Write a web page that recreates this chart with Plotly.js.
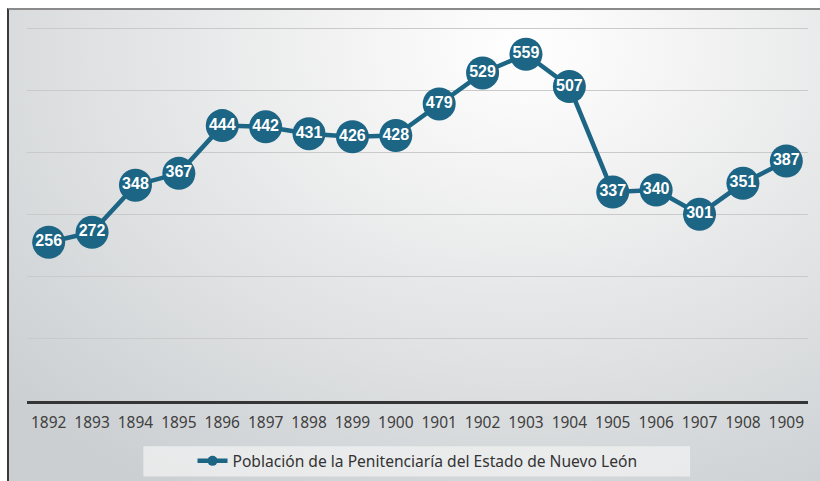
<!DOCTYPE html>
<html>
<head>
<meta charset="utf-8">
<script src="https://cdn.plot.ly/plotly-3.0.1.min.js"></script>
<style>
  html, body { margin:0; padding:0; background:#ffffff; }
  #wrap { position:relative; width:820px; height:481px; overflow:hidden; background:#ffffff; }
  #bg { position:absolute; left:7px; top:8px; width:830px; height:490px;
        border-top:2px solid #8a8a8a; border-left:2px solid #3a3a3a; box-sizing:border-box;
        background: radial-gradient(ellipse 85% 105% at 62% 8%, #ffffff 0%, #f3f3f3 25%, #e0e2e3 60%, #cbcfd2 100%); }
  #chart { position:absolute; left:0; top:0; width:820px; height:481px; }
</style>
</head>
<body>
<div id="wrap">
  <div id="bg"></div>
  <div id="chart"></div>
</div>
<script>
const years = ["1892","1893","1894","1895","1896","1897","1898","1899","1900","1901","1902","1903","1904","1905","1906","1907","1908","1909"];
const poblacion = [256,272,348,367,444,442,431,426,428,479,529,559,507,337,340,301,351,387];
const seriesName = "Población de la Penitenciaría del Estado de Nuevo León";

const color = "#1c6584";

const traces = [
  {
    type: "scatter",
    mode: "lines+markers+text",
    x: years,
    y: poblacion,
    text: poblacion.map(String),
    textposition: "middle center",
    textfont: { family: "Liberation Sans, Arial, sans-serif", size: 16, color: "#ffffff", weight: "bold" },
    line: { color: color, width: 4.5 },
    marker: { color: color, size: 33 },
    cliponaxis: false,
    showlegend: false,
    hoverinfo: "skip"
  },
  {
    type: "scatter",
    mode: "lines+markers",
    x: [years[0]],
    y: [null],
    name: seriesName,
    line: { color: color, width: 4.5 },
    marker: { color: color, size: 10 },
    showlegend: true
  }
];

const layout = {
  width: 820,
  height: 481,
  margin: { l: 27, r: 12, t: 27, b: 80, autoexpand: false },
  paper_bgcolor: "rgba(0,0,0,0)",
  plot_bgcolor: "rgba(0,0,0,0)",
  font: { family: "Noto Sans, sans-serif", color: "#404040" },
  xaxis: {
    type: "category",
    range: [-0.5, years.length - 0.5],
    autorange: false,
    showgrid: false,
    zeroline: false,
    showline: true,
    linecolor: "#353535",
    linewidth: 3,
    ticks: "outside",
    ticklen: 5,
    tickcolor: "rgba(0,0,0,0)",
    tickfont: { family: "Noto Sans, sans-serif", size: 15.5, color: "#404040" },
    fixedrange: true
  },
  yaxis: {
    range: [0, 603],
    autorange: false,
    dtick: 100,
    tick0: 0,
    showgrid: true,
    gridcolor: "#cacaca",
    gridwidth: 1,
    zeroline: false,
    showticklabels: false,
    fixedrange: true
  },
  showlegend: true,
  legend: {
    orientation: "h",
    x: 0.5,
    xanchor: "center",
    y: -0.161,
    yanchor: "middle",
    bgcolor: "rgba(0,0,0,0)",
    font: { family: "Noto Sans, sans-serif", size: 15.6, color: "#333333" }
  },
  shapes: [
    {
      type: "rect",
      xref: "paper", yref: "paper",
      x0: 0.149, x1: 0.849,
      y0: -0.121, y1: -0.2016,
      fillcolor: "rgba(240,241,242,0.75)",
      line: { width: 0 },
      layer: "below"
    }
  ]
};

Plotly.newPlot("chart", traces, layout, { displayModeBar: false, staticPlot: true });
</script>
</body>
</html>
